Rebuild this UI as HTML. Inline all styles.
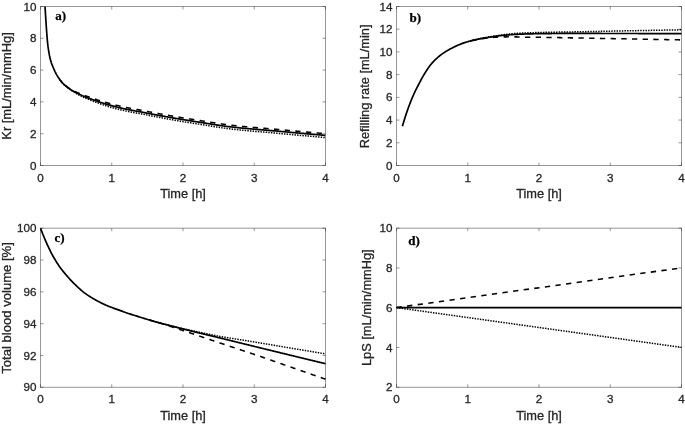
<!DOCTYPE html>
<html><head><meta charset="utf-8"><title>Figure</title>
<style>
html,body{margin:0;padding:0;background:#fff;}
svg{display:block;will-change:transform;font-family:"Liberation Sans",Arial,Helvetica,sans-serif;fill:#262626;font-variant-ligatures:none;}
text{stroke:#262626;stroke-width:0.3px;}
.s{fill:none;stroke:#000;stroke-width:1.7;}
.d{fill:none;stroke:#000;stroke-width:1.55;stroke-dasharray:5.3 5.4;}
.t{fill:none;stroke:#000;stroke-width:1.5;stroke-dasharray:1.45 1.18;}
.tag{font-family:"Liberation Serif","Times New Roman",serif;font-weight:bold;font-size:13px;fill:#000;stroke:#000;stroke-width:0.25px;}
</style></head><body>
<svg width="685" height="424" viewBox="0 0 685 424">
<defs><clipPath id="ca"><rect x="40.5" y="6.5" width="285" height="159"/></clipPath></defs>
<rect width="685" height="424" fill="#fff"/>
<rect x="40.5" y="6.5" width="285.0" height="159.0" fill="none" stroke="#262626" stroke-opacity="0.48" stroke-width="1"/>
<path d="M40.50,165.5 v-3 M40.50,6.5 v3 M111.75,165.5 v-3 M111.75,6.5 v3 M183.00,165.5 v-3 M183.00,6.5 v3 M254.25,165.5 v-3 M254.25,6.5 v3 M325.50,165.5 v-3 M325.50,6.5 v3 M40.5,165.50 h3 M325.5,165.50 h-3 M40.5,133.70 h3 M325.5,133.70 h-3 M40.5,101.90 h3 M325.5,101.90 h-3 M40.5,70.10 h3 M325.5,70.10 h-3 M40.5,38.30 h3 M325.5,38.30 h-3 M40.5,6.50 h3 M325.5,6.50 h-3" stroke="#262626" stroke-opacity="0.48" stroke-width="1" fill="none"/>
<text x="40.50" y="181.5" font-size="11.65" text-anchor="middle">0</text>
<text x="111.75" y="181.5" font-size="11.65" text-anchor="middle">1</text>
<text x="183.00" y="181.5" font-size="11.65" text-anchor="middle">2</text>
<text x="254.25" y="181.5" font-size="11.65" text-anchor="middle">3</text>
<text x="325.50" y="181.5" font-size="11.65" text-anchor="middle">4</text>
<text x="36.50" y="169.60" font-size="11.65" text-anchor="end">0</text>
<text x="36.50" y="137.80" font-size="11.65" text-anchor="end">2</text>
<text x="36.50" y="106.00" font-size="11.65" text-anchor="end">4</text>
<text x="36.50" y="74.20" font-size="11.65" text-anchor="end">6</text>
<text x="36.50" y="42.40" font-size="11.65" text-anchor="end">8</text>
<text x="36.50" y="10.60" font-size="11.65" text-anchor="end">10</text>
<text x="183.00" y="197.8" font-size="12.8" text-anchor="middle">Time [h]</text>
<g clip-path="url(#ca)">
<path d="M44.00,-10.00 L44.05,-9.08 L44.11,-8.16 L44.16,-7.24 L44.22,-6.32 L44.27,-5.41 L44.33,-4.49 L44.38,-3.57 L44.44,-2.65 L44.49,-1.73 L44.55,-0.81 L44.61,0.11 L44.66,1.03 L44.72,1.95 L44.78,2.86 L44.83,3.78 L44.89,4.70 L44.95,5.62 L45.01,6.54 L45.07,7.46 L45.13,8.38 L45.18,9.30 L45.24,10.22 L45.30,11.13 L45.36,12.05 L45.41,12.97 L45.47,13.89 L45.53,14.81 L45.58,15.73 L45.64,16.65 L45.70,17.57 L45.76,18.49 L45.82,19.40 L45.87,20.32 L45.93,21.24 L45.99,22.16 L46.05,23.08 L46.11,24.00 L46.17,24.92 L46.24,25.84 L46.30,26.75 L46.36,27.67 L46.42,28.59 L46.49,29.51 L46.56,30.43 L46.62,31.34 L46.69,32.26 L46.76,33.18 L46.83,34.10 L46.90,35.02 L46.97,35.93 L47.05,36.85 L47.12,37.77 L47.20,38.69 L47.28,39.60 L47.36,40.52 L47.45,41.44 L47.54,42.35 L47.63,43.27 L47.73,44.18 L47.83,45.10 L47.95,46.01 L48.06,46.93 L48.19,47.84 L48.32,48.75 L48.46,49.66 L48.60,50.57 L48.75,51.48 L48.90,52.39 L49.06,53.29 L49.23,54.20 L49.40,55.10 L49.58,56.01 L49.78,56.91 L49.98,57.81 L50.19,58.71 L50.41,59.60 L50.65,60.49 L50.89,61.37 L51.16,62.25 L51.46,63.12 L51.78,63.98 L52.12,64.84 L52.47,65.70 L52.82,66.55 L53.16,67.40 L53.52,68.25 L53.87,69.10 L54.24,69.95 L54.62,70.79 L55.01,71.62 L55.42,72.44 L55.85,73.26 L56.29,74.07 L56.75,74.87 L57.23,75.66 L57.71,76.44 L58.20,77.22 L58.71,77.99 L59.22,78.77 L59.74,79.53 L60.28,80.28 L60.84,81.01 L61.41,81.73 L62.00,82.42 L62.62,83.09 L63.27,83.74 L63.95,84.38 L64.64,85.00 L65.34,85.60 L66.05,86.19 L66.76,86.77 L67.49,87.33 L68.23,87.88 L68.98,88.41 L69.74,88.93 L70.51,89.44 L71.28,89.94 L72.07,90.42 L72.86,90.89 L73.66,91.35 L74.46,91.80 L75.27,92.24 L76.08,92.67 L76.90,93.09 L77.73,93.50 L78.56,93.90 L79.39,94.30 L80.22,94.69 L81.06,95.08 L81.89,95.47 L82.73,95.84 L83.58,96.21 L84.43,96.56 L85.28,96.90 L86.14,97.23 L87.01,97.55 L87.87,97.87 L88.73,98.20 L89.59,98.52 L90.45,98.85 L91.32,99.17 L92.18,99.48 L93.05,99.80 L93.91,100.11 L94.78,100.42 L95.65,100.72 L96.52,101.03 L97.39,101.33 L98.26,101.62 L99.13,101.91 L100.01,102.19 L100.88,102.48 L101.76,102.76 L102.64,103.03 L103.52,103.31 L104.40,103.58 L105.28,103.84 L106.16,104.11 L107.04,104.37 L107.93,104.64 L108.81,104.90 L109.69,105.15 L110.58,105.41 L111.47,105.66 L112.35,105.90 L113.24,106.14 L114.13,106.37 L115.02,106.60 L115.92,106.82 L116.81,107.05 L117.70,107.26 L118.60,107.48 L119.50,107.69 L120.39,107.90 L121.29,108.11 L122.19,108.31 L123.09,108.51 L123.98,108.71 L124.88,108.91 L125.78,109.10 L126.69,109.29 L127.59,109.48 L128.49,109.66 L129.39,109.84 L130.30,110.01 L131.20,110.18 L132.10,110.35 L133.01,110.52 L133.92,110.68 L134.82,110.85 L135.73,111.01 L136.63,111.18 L137.54,111.34 L138.44,111.51 L139.35,111.68 L140.25,111.85 L141.16,112.02 L142.06,112.19 L142.97,112.36 L143.87,112.54 L144.78,112.71 L145.68,112.88 L146.58,113.06 L147.49,113.23 L148.39,113.41 L149.30,113.58 L150.20,113.75 L151.10,113.93 L152.01,114.10 L152.91,114.27 L153.82,114.45 L154.72,114.62 L155.63,114.79 L156.53,114.96 L157.44,115.13 L158.34,115.30 L159.25,115.46 L160.15,115.63 L161.06,115.79 L161.96,115.96 L162.87,116.12 L163.78,116.28 L164.68,116.45 L165.59,116.61 L166.49,116.77 L167.40,116.93 L168.31,117.09 L169.21,117.25 L170.12,117.41 L171.03,117.57 L171.93,117.72 L172.84,117.88 L173.75,118.04 L174.66,118.19 L175.56,118.35 L176.47,118.50 L177.38,118.66 L178.29,118.81 L179.19,118.96 L180.10,119.12 L181.01,119.27 L181.92,119.42 L182.83,119.57 L183.73,119.72 L184.64,119.87 L185.55,120.02 L186.46,120.17 L187.37,120.32 L188.28,120.46 L189.19,120.61 L190.09,120.76 L191.00,120.90 L191.91,121.05 L192.82,121.19 L193.73,121.34 L194.64,121.48 L195.55,121.63 L196.46,121.77 L197.37,121.91 L198.28,122.06 L199.19,122.20 L200.10,122.34 L201.01,122.48 L201.92,122.62 L202.83,122.76 L203.74,122.91 L204.65,123.05 L205.56,123.19 L206.46,123.33 L207.37,123.47 L208.28,123.61 L209.19,123.76 L210.10,123.90 L211.01,124.05 L211.92,124.19 L212.83,124.33 L213.74,124.48 L214.65,124.62 L215.56,124.77 L216.47,124.91 L217.38,125.05 L218.29,125.19 L219.20,125.33 L220.11,125.47 L221.02,125.60 L221.94,125.73 L222.85,125.87 L223.76,126.00 L224.67,126.12 L225.58,126.25 L226.49,126.37 L227.41,126.48 L228.32,126.60 L229.23,126.71 L230.14,126.82 L231.06,126.92 L231.97,127.03 L232.89,127.13 L233.80,127.23 L234.71,127.33 L235.63,127.42 L236.54,127.52 L237.46,127.62 L238.37,127.71 L239.29,127.80 L240.21,127.89 L241.12,127.98 L242.04,128.07 L242.95,128.16 L243.87,128.25 L244.79,128.33 L245.70,128.42 L246.62,128.50 L247.54,128.59 L248.45,128.67 L249.37,128.75 L250.29,128.83 L251.20,128.91 L252.12,128.99 L253.04,129.07 L253.96,129.15 L254.87,129.23 L255.79,129.31 L256.71,129.39 L257.63,129.46 L258.55,129.54 L259.46,129.62 L260.38,129.70 L261.30,129.77 L262.22,129.85 L263.13,129.93 L264.05,130.00 L264.97,130.08 L265.89,130.16 L266.81,130.23 L267.72,130.31 L268.64,130.39 L269.56,130.47 L270.48,130.54 L271.39,130.62 L272.31,130.70 L273.23,130.78 L274.15,130.86 L275.06,130.94 L275.98,131.02 L276.90,131.10 L277.82,131.18 L278.73,131.27 L279.65,131.35 L280.57,131.43 L281.48,131.51 L282.40,131.60 L283.32,131.68 L284.23,131.76 L285.15,131.84 L286.07,131.92 L286.98,132.01 L287.90,132.09 L288.82,132.17 L289.74,132.25 L290.65,132.33 L291.57,132.42 L292.49,132.50 L293.40,132.58 L294.32,132.66 L295.24,132.74 L296.15,132.82 L297.07,132.90 L297.99,132.99 L298.90,133.07 L299.82,133.15 L300.74,133.23 L301.66,133.31 L302.57,133.39 L303.49,133.47 L304.41,133.55 L305.32,133.63 L306.24,133.72 L307.16,133.80 L308.08,133.88 L308.99,133.96 L309.91,134.04 L310.83,134.12 L311.74,134.20 L312.66,134.28 L313.58,134.36 L314.49,134.44 L315.41,134.52 L316.33,134.60 L317.25,134.68 L318.16,134.76 L319.08,134.84 L320.00,134.92 L320.91,135.00 L321.83,135.08 L322.75,135.16 L323.67,135.24 L324.58,135.32 L325.50,135.40" class="s"/>
<path d="M60.00,79.88 L60.89,81.11 L61.78,82.21 L62.66,83.20 L63.55,84.11 L64.44,84.96 L65.33,85.76 L66.22,86.52 L67.10,87.25 L67.99,87.95 L68.88,88.61 L69.77,89.24 L70.66,89.88 L71.54,90.49 L72.43,91.09 L73.32,91.66 L74.21,92.22 L75.10,92.76 L75.98,93.28 L76.87,93.78 L77.76,94.28 L78.65,94.76 L79.54,95.24 L80.42,95.71 L81.31,96.18 L82.20,96.64 L83.09,97.08 L83.97,97.51 L84.86,97.92 L85.75,98.29 L86.64,98.65 L87.53,99.01 L88.41,99.36 L89.30,99.72 L90.19,100.07 L91.08,100.43 L91.97,100.77 L92.85,101.12 L93.74,101.46 L94.63,101.80 L95.52,102.13 L96.41,102.46 L97.29,102.79 L98.18,103.11 L99.07,103.43 L99.96,103.74 L100.85,104.05 L101.73,104.35 L102.62,104.65 L103.51,104.95 L104.40,105.24 L105.29,105.53 L106.17,105.82 L107.06,106.11 L107.95,106.39 L108.84,106.68 L109.73,106.96 L110.61,107.22 L111.50,107.47 L112.39,107.72 L113.28,107.96 L114.17,108.19 L115.05,108.42 L115.94,108.65 L116.83,108.87 L117.72,109.09 L118.61,109.30 L119.49,109.52 L120.38,109.73 L121.27,109.93 L122.16,110.14 L123.05,110.34 L123.93,110.54 L124.82,110.74 L125.71,110.93 L126.60,111.12 L127.48,111.31 L128.37,111.49 L129.26,111.67 L130.15,111.84 L131.04,112.01 L131.92,112.18 L132.81,112.35 L133.70,112.51 L134.59,112.68 L135.48,112.84 L136.36,113.01 L137.25,113.17 L138.14,113.33 L139.03,113.50 L139.92,113.67 L140.80,113.84 L141.69,114.01 L142.58,114.18 L143.47,114.35 L144.36,114.53 L145.24,114.70 L146.13,114.87 L147.02,115.05 L147.91,115.22 L148.80,115.39 L149.68,115.57 L150.57,115.74 L151.46,115.91 L152.35,116.09 L153.24,116.26 L154.12,116.43 L155.01,116.60 L155.90,116.77 L156.79,116.94 L157.68,117.11 L158.56,117.28 L159.45,117.44 L160.34,117.61 L161.23,117.77 L162.12,117.93 L163.00,118.10 L163.89,118.26 L164.78,118.42 L165.67,118.58 L166.56,118.74 L167.44,118.90 L168.33,119.06 L169.22,119.22 L170.11,119.38 L170.99,119.53 L171.88,119.69 L172.77,119.85 L173.66,120.00 L174.55,120.16 L175.43,120.31 L176.32,120.47 L177.21,120.62 L178.10,120.77 L178.99,120.93 L179.87,121.08 L180.76,121.23 L181.65,121.38 L182.54,121.53 L183.43,121.67 L184.31,121.82 L185.20,121.97 L186.09,122.12 L186.98,122.26 L187.87,122.41 L188.75,122.55 L189.64,122.70 L190.53,122.84 L191.42,122.99 L192.31,123.13 L193.19,123.27 L194.08,123.41 L194.97,123.56 L195.86,123.70 L196.75,123.84 L197.63,123.98 L198.52,124.12 L199.41,124.26 L200.30,124.40 L201.19,124.54 L202.07,124.68 L202.96,124.82 L203.85,124.96 L204.74,125.09 L205.63,125.23 L206.51,125.37 L207.40,125.51 L208.29,125.65 L209.18,125.79 L210.07,125.94 L210.95,126.08 L211.84,126.22 L212.73,126.36 L213.62,126.51 L214.51,126.65 L215.39,126.79 L216.28,126.93 L217.17,127.07 L218.06,127.21 L218.94,127.34 L219.83,127.48 L220.72,127.61 L221.61,127.74 L222.50,127.87 L223.38,128.00 L224.27,128.13 L225.16,128.25 L226.05,128.37 L226.94,128.49 L227.82,128.60 L228.71,128.71 L229.60,128.82 L230.49,128.93 L231.38,129.03 L232.26,129.13 L233.15,129.23 L234.04,129.33 L234.93,129.42 L235.82,129.52 L236.70,129.61 L237.59,129.71 L238.48,129.80 L239.37,129.89 L240.26,129.98 L241.14,130.07 L242.03,130.16 L242.92,130.24 L243.81,130.33 L244.70,130.41 L245.58,130.50 L246.47,130.58 L247.36,130.66 L248.25,130.74 L249.14,130.83 L250.02,130.91 L250.91,130.99 L251.80,131.06 L252.69,131.14 L253.58,131.22 L254.46,131.30 L255.35,131.38 L256.24,131.45 L257.13,131.53 L258.02,131.61 L258.90,131.68 L259.79,131.76 L260.68,131.83 L261.57,131.91 L262.45,131.98 L263.34,132.06 L264.23,132.13 L265.12,132.21 L266.01,132.28 L266.89,132.36 L267.78,132.44 L268.67,132.51 L269.56,132.59 L270.45,132.67 L271.33,132.74 L272.22,132.82 L273.11,132.90 L274.00,132.98 L274.89,133.05 L275.77,133.13 L276.66,133.21 L277.55,133.29 L278.44,133.37 L279.33,133.46 L280.21,133.54 L281.10,133.62 L281.99,133.70 L282.88,133.78 L283.77,133.86 L284.65,133.94 L285.54,134.02 L286.43,134.10 L287.32,134.18 L288.21,134.26 L289.09,134.34 L289.98,134.42 L290.87,134.51 L291.76,134.59 L292.65,134.67 L293.53,134.75 L294.42,134.83 L295.31,134.91 L296.20,134.99 L297.09,135.07 L297.97,135.15 L298.86,135.23 L299.75,135.31 L300.64,135.39 L301.53,135.47 L302.41,135.55 L303.30,135.63 L304.19,135.71 L305.08,135.78 L305.96,135.86 L306.85,135.94 L307.74,136.02 L308.63,136.10 L309.52,136.18 L310.40,136.26 L311.29,136.34 L312.18,136.42 L313.07,136.50 L313.96,136.58 L314.84,136.66 L315.73,136.74 L316.62,136.81 L317.51,136.89 L318.40,136.97 L319.28,137.05 L320.17,137.13 L321.06,137.21 L321.95,137.29 L322.84,137.36 L323.72,137.44 L324.61,137.52 L325.50,137.60" class="t"/>
<path d="M60.00,79.88 L60.89,81.05 L61.78,82.11 L62.66,83.04 L63.55,83.90 L64.44,84.69 L65.33,85.44 L66.22,86.14 L67.10,86.82 L67.99,87.47 L68.88,88.08 L69.77,88.66 L70.66,89.20 L71.54,89.71 L72.43,90.19 L73.32,90.66 L74.21,91.11 L75.10,91.55 L75.98,91.96 L76.87,92.36 L77.76,92.75 L78.65,93.12 L79.54,93.49 L80.42,93.86 L81.31,94.22 L82.20,94.57 L83.09,94.91 L83.97,95.23 L84.86,95.54 L85.75,95.86 L86.64,96.18 L87.53,96.50 L88.41,96.82 L89.30,97.14 L90.19,97.46 L91.08,97.77 L91.97,98.08 L92.85,98.39 L93.74,98.69 L94.63,98.99 L95.52,99.29 L96.41,99.58 L97.29,99.87 L98.18,100.16 L99.07,100.44 L99.96,100.71 L100.85,100.98 L101.73,101.25 L102.62,101.51 L103.51,101.77 L104.40,102.03 L105.29,102.28 L106.17,102.53 L107.06,102.78 L107.95,103.03 L108.84,103.27 L109.73,103.52 L110.61,103.76 L111.50,104.01 L112.39,104.25 L113.28,104.49 L114.17,104.72 L115.05,104.94 L115.94,105.16 L116.83,105.38 L117.72,105.59 L118.61,105.80 L119.49,106.01 L120.38,106.21 L121.27,106.41 L122.16,106.61 L123.05,106.81 L123.93,107.00 L124.82,107.20 L125.71,107.38 L126.60,107.57 L127.48,107.75 L128.37,107.92 L129.26,108.10 L130.15,108.27 L131.04,108.43 L131.92,108.60 L132.81,108.76 L133.70,108.92 L134.59,109.08 L135.48,109.23 L136.36,109.39 L137.25,109.55 L138.14,109.71 L139.03,109.87 L139.92,110.03 L140.80,110.20 L141.69,110.37 L142.58,110.54 L143.47,110.71 L144.36,110.88 L145.24,111.05 L146.13,111.22 L147.02,111.39 L147.91,111.56 L148.80,111.74 L149.68,111.91 L150.57,112.08 L151.46,112.25 L152.35,112.42 L153.24,112.59 L154.12,112.76 L155.01,112.93 L155.90,113.09 L156.79,113.26 L157.68,113.43 L158.56,113.59 L159.45,113.76 L160.34,113.92 L161.23,114.08 L162.12,114.24 L163.00,114.40 L163.89,114.56 L164.78,114.72 L165.67,114.88 L166.56,115.04 L167.44,115.19 L168.33,115.35 L169.22,115.51 L170.11,115.66 L170.99,115.82 L171.88,115.97 L172.77,116.13 L173.66,116.28 L174.55,116.43 L175.43,116.59 L176.32,116.74 L177.21,116.89 L178.10,117.04 L178.99,117.19 L179.87,117.34 L180.76,117.49 L181.65,117.64 L182.54,117.78 L183.43,117.93 L184.31,118.08 L185.20,118.22 L186.09,118.37 L186.98,118.51 L187.87,118.66 L188.75,118.80 L189.64,118.95 L190.53,119.09 L191.42,119.23 L192.31,119.38 L193.19,119.52 L194.08,119.66 L194.97,119.80 L195.86,119.94 L196.75,120.08 L197.63,120.22 L198.52,120.36 L199.41,120.50 L200.30,120.64 L201.19,120.78 L202.07,120.91 L202.96,121.05 L203.85,121.19 L204.74,121.33 L205.63,121.46 L206.51,121.60 L207.40,121.74 L208.29,121.88 L209.18,122.02 L210.07,122.16 L210.95,122.30 L211.84,122.45 L212.73,122.59 L213.62,122.73 L214.51,122.87 L215.39,123.01 L216.28,123.15 L217.17,123.29 L218.06,123.42 L218.94,123.56 L219.83,123.70 L220.72,123.83 L221.61,123.96 L222.50,124.09 L223.38,124.22 L224.27,124.34 L225.16,124.46 L226.05,124.58 L226.94,124.70 L227.82,124.81 L228.71,124.92 L229.60,125.03 L230.49,125.13 L231.38,125.23 L232.26,125.33 L233.15,125.43 L234.04,125.53 L234.93,125.62 L235.82,125.72 L236.70,125.81 L237.59,125.91 L238.48,126.00 L239.37,126.09 L240.26,126.17 L241.14,126.26 L242.03,126.35 L242.92,126.43 L243.81,126.52 L244.70,126.60 L245.58,126.69 L246.47,126.77 L247.36,126.85 L248.25,126.93 L249.14,127.01 L250.02,127.09 L250.91,127.17 L251.80,127.25 L252.69,127.32 L253.58,127.40 L254.46,127.48 L255.35,127.55 L256.24,127.63 L257.13,127.70 L258.02,127.78 L258.90,127.85 L259.79,127.93 L260.68,128.00 L261.57,128.08 L262.45,128.15 L263.34,128.23 L264.23,128.30 L265.12,128.38 L266.01,128.45 L266.89,128.53 L267.78,128.60 L268.67,128.68 L269.56,128.75 L270.45,128.83 L271.33,128.90 L272.22,128.98 L273.11,129.06 L274.00,129.13 L274.89,129.21 L275.77,129.29 L276.66,129.37 L277.55,129.45 L278.44,129.53 L279.33,129.61 L280.21,129.69 L281.10,129.77 L281.99,129.85 L282.88,129.93 L283.77,130.01 L284.65,130.09 L285.54,130.17 L286.43,130.25 L287.32,130.33 L288.21,130.41 L289.09,130.48 L289.98,130.56 L290.87,130.64 L291.76,130.72 L292.65,130.80 L293.53,130.88 L294.42,130.96 L295.31,131.04 L296.20,131.12 L297.09,131.20 L297.97,131.28 L298.86,131.36 L299.75,131.44 L300.64,131.51 L301.53,131.59 L302.41,131.67 L303.30,131.75 L304.19,131.83 L305.08,131.91 L305.96,131.99 L306.85,132.06 L307.74,132.14 L308.63,132.22 L309.52,132.30 L310.40,132.38 L311.29,132.46 L312.18,132.53 L313.07,132.61 L313.96,132.69 L314.84,132.77 L315.73,132.85 L316.62,132.92 L317.51,133.00 L318.40,133.08 L319.28,133.16 L320.17,133.24 L321.06,133.31 L321.95,133.39 L322.84,133.47 L323.72,133.55 L324.61,133.62 L325.50,133.70" class="d" stroke-dashoffset="-8.38"/>
</g>
<text transform="translate(11.4,86) rotate(-90)" font-size="12.90" text-anchor="middle">Kr [mL/min/mmHg]</text>
<text x="55.3" y="19.8" class="tag">a)</text>
<rect x="396.5" y="6.5" width="285.0" height="159.0" fill="none" stroke="#262626" stroke-opacity="0.48" stroke-width="1"/>
<path d="M396.50,165.5 v-3 M396.50,6.5 v3 M467.75,165.5 v-3 M467.75,6.5 v3 M539.00,165.5 v-3 M539.00,6.5 v3 M610.25,165.5 v-3 M610.25,6.5 v3 M681.50,165.5 v-3 M681.50,6.5 v3 M396.5,165.50 h3 M681.5,165.50 h-3 M396.5,142.79 h3 M681.5,142.79 h-3 M396.5,120.07 h3 M681.5,120.07 h-3 M396.5,97.36 h3 M681.5,97.36 h-3 M396.5,74.64 h3 M681.5,74.64 h-3 M396.5,51.93 h3 M681.5,51.93 h-3 M396.5,29.21 h3 M681.5,29.21 h-3 M396.5,6.50 h3 M681.5,6.50 h-3" stroke="#262626" stroke-opacity="0.48" stroke-width="1" fill="none"/>
<text x="396.50" y="181.5" font-size="11.65" text-anchor="middle">0</text>
<text x="467.75" y="181.5" font-size="11.65" text-anchor="middle">1</text>
<text x="539.00" y="181.5" font-size="11.65" text-anchor="middle">2</text>
<text x="610.25" y="181.5" font-size="11.65" text-anchor="middle">3</text>
<text x="681.50" y="181.5" font-size="11.65" text-anchor="middle">4</text>
<text x="392.50" y="169.60" font-size="11.65" text-anchor="end">0</text>
<text x="392.50" y="146.89" font-size="11.65" text-anchor="end">2</text>
<text x="392.50" y="124.17" font-size="11.65" text-anchor="end">4</text>
<text x="392.50" y="101.46" font-size="11.65" text-anchor="end">6</text>
<text x="392.50" y="78.74" font-size="11.65" text-anchor="end">8</text>
<text x="392.50" y="56.03" font-size="11.65" text-anchor="end">10</text>
<text x="392.50" y="33.31" font-size="11.65" text-anchor="end">12</text>
<text x="392.50" y="10.60" font-size="11.65" text-anchor="end">14</text>
<text x="539.00" y="197.8" font-size="12.8" text-anchor="middle">Time [h]</text>
<path d="M402.40,126.20 L403.10,123.81 L403.80,121.48 L404.50,119.22 L405.20,117.03 L405.90,114.88 L406.60,112.78 L407.30,110.73 L408.00,108.74 L408.70,106.82 L409.39,104.94 L410.09,103.12 L410.79,101.34 L411.49,99.62 L412.19,97.94 L412.89,96.31 L413.59,94.73 L414.29,93.18 L414.99,91.68 L415.69,90.21 L416.39,88.79 L417.09,87.41 L417.79,86.06 L418.49,84.73 L419.19,83.40 L419.89,82.07 L420.59,80.74 L421.29,79.43 L421.99,78.13 L422.69,76.88 L423.38,75.69 L424.08,74.52 L424.78,73.35 L425.48,72.21 L426.18,71.08 L426.88,69.98 L427.58,68.91 L428.28,67.88 L428.98,66.89 L429.68,65.94 L430.38,65.05 L431.08,64.20 L431.78,63.38 L432.48,62.59 L433.18,61.83 L433.88,61.09 L434.58,60.38 L435.28,59.69 L435.98,59.03 L436.68,58.38 L437.37,57.76 L438.07,57.15 L438.77,56.56 L439.47,55.99 L440.17,55.44 L440.87,54.90 L441.57,54.38 L442.27,53.88 L442.97,53.38 L443.67,52.90 L444.37,52.44 L445.07,51.98 L445.77,51.54 L446.47,51.11 L447.17,50.69 L447.87,50.29 L448.57,49.89 L449.27,49.50 L449.97,49.12 L450.67,48.75 L451.36,48.38 L452.06,48.02 L452.76,47.67 L453.46,47.31 L454.16,46.96 L454.86,46.62 L455.56,46.28 L456.26,45.94 L456.96,45.62 L457.66,45.30 L458.36,44.99 L459.06,44.70 L459.76,44.42 L460.46,44.14 L461.16,43.88 L461.86,43.62 L462.56,43.37 L463.26,43.13 L463.96,42.89 L464.66,42.66 L465.35,42.43 L466.05,42.22 L466.75,42.00 L467.45,41.80 L468.15,41.59 L468.85,41.40 L469.55,41.21 L470.25,41.02 L470.95,40.84 L471.65,40.66 L472.35,40.49 L473.05,40.32 L473.75,40.15 L474.45,39.99 L475.15,39.83 L475.85,39.67 L476.55,39.52 L477.25,39.37 L477.95,39.23 L478.65,39.09 L479.34,38.95 L480.04,38.81 L480.74,38.68 L481.44,38.55 L482.14,38.42 L482.84,38.30 L483.54,38.18 L484.24,38.06 L484.94,37.94 L485.64,37.83 L486.34,37.72 L487.04,37.61 L487.74,37.50 L488.44,37.39 L489.14,37.28 L489.84,37.17 L490.54,37.06 L491.24,36.95 L491.94,36.83 L492.64,36.72 L493.33,36.61 L494.03,36.50 L494.73,36.40 L495.43,36.29 L496.13,36.19 L496.83,36.10 L497.53,36.00 L498.23,35.91 L498.93,35.83 L499.63,35.75 L500.33,35.67 L501.03,35.60 L501.73,35.52 L502.43,35.45 L503.13,35.38 L503.83,35.31 L504.53,35.24 L505.23,35.17 L505.93,35.10 L506.63,35.04 L507.32,34.98 L508.02,34.92 L508.72,34.86 L509.42,34.80 L510.12,34.75 L510.82,34.70 L511.52,34.65 L512.22,34.60 L512.92,34.56 L513.62,34.52 L514.32,34.48 L515.02,34.44 L515.72,34.40 L516.42,34.37 L517.12,34.33 L517.82,34.30 L518.52,34.26 L519.22,34.23 L519.92,34.20 L520.62,34.17 L521.31,34.14 L522.01,34.12 L522.71,34.09 L523.41,34.06 L524.11,34.04 L524.81,34.01 L525.51,33.99 L526.21,33.97 L526.91,33.95 L527.61,33.93 L528.31,33.91 L529.01,33.89 L529.71,33.87 L530.41,33.85 L531.11,33.83 L531.81,33.81 L532.51,33.79 L533.21,33.78 L533.91,33.76 L534.61,33.74 L535.30,33.73 L536.00,33.71 L536.70,33.70 L537.40,33.68 L538.10,33.67 L538.80,33.66 L539.50,33.65 L540.20,33.64 L540.90,33.63 L541.60,33.62 L542.30,33.61 L543.00,33.60 L543.70,33.59 L544.40,33.59 L545.10,33.58 L545.80,33.58 L546.50,33.57 L547.20,33.56 L547.90,33.56 L548.60,33.55 L549.29,33.55 L549.99,33.54 L550.69,33.53 L551.39,33.53 L552.09,33.52 L552.79,33.52 L553.49,33.51 L554.19,33.51 L554.89,33.50 L555.59,33.50 L556.29,33.50 L556.99,33.49 L557.69,33.49 L558.39,33.48 L559.09,33.48 L559.79,33.48 L560.49,33.47 L561.19,33.47 L561.89,33.47 L562.59,33.46 L563.28,33.46 L563.98,33.46 L564.68,33.46 L565.38,33.46 L566.08,33.45 L566.78,33.45 L567.48,33.45 L568.18,33.45 L568.88,33.45 L569.58,33.45 L570.28,33.45 L570.98,33.45 L571.68,33.45 L572.38,33.45 L573.08,33.45 L573.78,33.45 L574.48,33.45 L575.18,33.45 L575.88,33.45 L576.58,33.45 L577.27,33.45 L577.97,33.45 L578.67,33.45 L579.37,33.45 L580.07,33.45 L580.77,33.45 L581.47,33.45 L582.17,33.45 L582.87,33.46 L583.57,33.46 L584.27,33.46 L584.97,33.46 L585.67,33.46 L586.37,33.46 L587.07,33.46 L587.77,33.46 L588.47,33.46 L589.17,33.46 L589.87,33.46 L590.57,33.46 L591.26,33.46 L591.96,33.46 L592.66,33.46 L593.36,33.47 L594.06,33.47 L594.76,33.47 L595.46,33.47 L596.16,33.47 L596.86,33.47 L597.56,33.47 L598.26,33.47 L598.96,33.47 L599.66,33.47 L600.36,33.47 L601.06,33.47 L601.76,33.48 L602.46,33.48 L603.16,33.48 L603.86,33.48 L604.56,33.48 L605.25,33.48 L605.95,33.48 L606.65,33.48 L607.35,33.48 L608.05,33.48 L608.75,33.49 L609.45,33.49 L610.15,33.49 L610.85,33.49 L611.55,33.49 L612.25,33.49 L612.95,33.49 L613.65,33.49 L614.35,33.49 L615.05,33.49 L615.75,33.49 L616.45,33.50 L617.15,33.50 L617.85,33.50 L618.55,33.50 L619.24,33.50 L619.94,33.50 L620.64,33.50 L621.34,33.50 L622.04,33.50 L622.74,33.50 L623.44,33.50 L624.14,33.51 L624.84,33.51 L625.54,33.51 L626.24,33.51 L626.94,33.51 L627.64,33.51 L628.34,33.51 L629.04,33.51 L629.74,33.51 L630.44,33.51 L631.14,33.51 L631.84,33.52 L632.54,33.52 L633.23,33.52 L633.93,33.52 L634.63,33.52 L635.33,33.52 L636.03,33.52 L636.73,33.52 L637.43,33.52 L638.13,33.52 L638.83,33.53 L639.53,33.53 L640.23,33.53 L640.93,33.53 L641.63,33.53 L642.33,33.53 L643.03,33.53 L643.73,33.53 L644.43,33.53 L645.13,33.54 L645.83,33.54 L646.53,33.54 L647.22,33.54 L647.92,33.54 L648.62,33.54 L649.32,33.54 L650.02,33.54 L650.72,33.54 L651.42,33.55 L652.12,33.55 L652.82,33.55 L653.52,33.55 L654.22,33.55 L654.92,33.55 L655.62,33.55 L656.32,33.55 L657.02,33.55 L657.72,33.56 L658.42,33.56 L659.12,33.56 L659.82,33.56 L660.52,33.56 L661.21,33.56 L661.91,33.56 L662.61,33.56 L663.31,33.57 L664.01,33.57 L664.71,33.57 L665.41,33.57 L666.11,33.57 L666.81,33.57 L667.51,33.57 L668.21,33.57 L668.91,33.58 L669.61,33.58 L670.31,33.58 L671.01,33.58 L671.71,33.58 L672.41,33.58 L673.11,33.58 L673.81,33.59 L674.51,33.59 L675.20,33.59 L675.90,33.59 L676.60,33.59 L677.30,33.59 L678.00,33.59 L678.70,33.59 L679.40,33.60 L680.10,33.60 L680.80,33.60 L681.50,33.60" class="s"/>
<path d="M470.00,41.09 L470.71,40.89 L471.41,40.70 L472.12,40.51 L472.83,40.32 L473.54,40.14 L474.24,39.97 L474.95,39.79 L475.66,39.62 L476.37,39.46 L477.07,39.29 L477.78,39.13 L478.49,38.98 L479.20,38.82 L479.90,38.67 L480.61,38.53 L481.32,38.38 L482.03,38.24 L482.73,38.10 L483.44,37.97 L484.15,37.84 L484.85,37.71 L485.56,37.58 L486.27,37.46 L486.98,37.33 L487.68,37.21 L488.39,37.09 L489.10,36.97 L489.81,36.84 L490.51,36.72 L491.22,36.59 L491.93,36.47 L492.64,36.35 L493.34,36.22 L494.05,36.10 L494.76,35.98 L495.46,35.86 L496.17,35.75 L496.88,35.64 L497.59,35.54 L498.29,35.43 L499.00,35.34 L499.71,35.25 L500.42,35.15 L501.12,35.05 L501.83,34.95 L502.54,34.86 L503.25,34.76 L503.95,34.67 L504.66,34.57 L505.37,34.48 L506.08,34.40 L506.78,34.31 L507.49,34.22 L508.20,34.14 L508.90,34.06 L509.61,33.98 L510.32,33.90 L511.03,33.83 L511.73,33.76 L512.44,33.69 L513.15,33.62 L513.86,33.56 L514.56,33.51 L515.27,33.47 L515.98,33.42 L516.69,33.38 L517.39,33.34 L518.10,33.31 L518.81,33.27 L519.52,33.23 L520.22,33.20 L520.93,33.16 L521.64,33.13 L522.34,33.09 L523.05,33.06 L523.76,33.03 L524.47,33.00 L525.17,32.97 L525.88,32.95 L526.59,32.92 L527.30,32.89 L528.00,32.87 L528.71,32.84 L529.42,32.82 L530.13,32.79 L530.83,32.76 L531.54,32.74 L532.25,32.71 L532.95,32.68 L533.66,32.66 L534.37,32.64 L535.08,32.61 L535.78,32.59 L536.49,32.57 L537.20,32.54 L537.91,32.52 L538.61,32.50 L539.32,32.48 L540.03,32.46 L540.74,32.45 L541.44,32.43 L542.15,32.41 L542.86,32.40 L543.57,32.38 L544.27,32.37 L544.98,32.35 L545.69,32.34 L546.39,32.33 L547.10,32.31 L547.81,32.30 L548.52,32.29 L549.22,32.27 L549.93,32.26 L550.64,32.24 L551.35,32.23 L552.05,32.22 L552.76,32.21 L553.47,32.19 L554.18,32.18 L554.88,32.17 L555.59,32.16 L556.30,32.14 L557.01,32.13 L557.71,32.12 L558.42,32.11 L559.13,32.10 L559.83,32.09 L560.54,32.08 L561.25,32.06 L561.96,32.05 L562.66,32.04 L563.37,32.03 L564.08,32.02 L564.79,32.01 L565.49,32.00 L566.20,32.00 L566.91,31.99 L567.62,31.98 L568.32,31.97 L569.03,31.96 L569.74,31.95 L570.44,31.94 L571.15,31.93 L571.86,31.91 L572.57,31.90 L573.27,31.88 L573.98,31.87 L574.69,31.85 L575.40,31.84 L576.10,31.83 L576.81,31.81 L577.52,31.80 L578.23,31.78 L578.93,31.77 L579.64,31.75 L580.35,31.74 L581.06,31.73 L581.76,31.71 L582.47,31.70 L583.18,31.68 L583.88,31.67 L584.59,31.66 L585.30,31.64 L586.01,31.63 L586.71,31.61 L587.42,31.60 L588.13,31.59 L588.84,31.57 L589.54,31.56 L590.25,31.54 L590.96,31.53 L591.67,31.52 L592.37,31.50 L593.08,31.49 L593.79,31.48 L594.49,31.46 L595.20,31.45 L595.91,31.43 L596.62,31.42 L597.32,31.41 L598.03,31.39 L598.74,31.38 L599.45,31.37 L600.15,31.35 L600.86,31.34 L601.57,31.32 L602.28,31.31 L602.98,31.30 L603.69,31.28 L604.40,31.27 L605.11,31.26 L605.81,31.24 L606.52,31.23 L607.23,31.22 L607.93,31.20 L608.64,31.19 L609.35,31.17 L610.06,31.16 L610.76,31.15 L611.47,31.13 L612.18,31.12 L612.89,31.11 L613.59,31.09 L614.30,31.08 L615.01,31.07 L615.72,31.05 L616.42,31.04 L617.13,31.02 L617.84,31.01 L618.55,31.00 L619.25,30.98 L619.96,30.97 L620.67,30.96 L621.37,30.94 L622.08,30.93 L622.79,30.91 L623.50,30.90 L624.20,30.89 L624.91,30.87 L625.62,30.86 L626.33,30.85 L627.03,30.83 L627.74,30.82 L628.45,30.81 L629.16,30.79 L629.86,30.78 L630.57,30.76 L631.28,30.75 L631.98,30.74 L632.69,30.72 L633.40,30.71 L634.11,30.70 L634.81,30.68 L635.52,30.67 L636.23,30.66 L636.94,30.64 L637.64,30.63 L638.35,30.61 L639.06,30.60 L639.77,30.59 L640.47,30.57 L641.18,30.56 L641.89,30.55 L642.60,30.53 L643.30,30.52 L644.01,30.51 L644.72,30.49 L645.42,30.48 L646.13,30.47 L646.84,30.45 L647.55,30.44 L648.25,30.43 L648.96,30.41 L649.67,30.40 L650.38,30.39 L651.08,30.37 L651.79,30.36 L652.50,30.35 L653.21,30.33 L653.91,30.32 L654.62,30.31 L655.33,30.29 L656.04,30.28 L656.74,30.27 L657.45,30.25 L658.16,30.24 L658.86,30.22 L659.57,30.21 L660.28,30.20 L660.99,30.18 L661.69,30.17 L662.40,30.16 L663.11,30.14 L663.82,30.13 L664.52,30.12 L665.23,30.10 L665.94,30.09 L666.65,30.08 L667.35,30.06 L668.06,30.05 L668.77,30.04 L669.47,30.03 L670.18,30.01 L670.89,30.00 L671.60,29.99 L672.30,29.97 L673.01,29.96 L673.72,29.95 L674.43,29.93 L675.13,29.92 L675.84,29.91 L676.55,29.89 L677.26,29.88 L677.96,29.87 L678.67,29.85 L679.38,29.84 L680.09,29.83 L680.79,29.81 L681.50,29.80" class="t"/>
<path d="M470.00,41.09 L470.71,40.92 L471.41,40.75 L472.12,40.60 L472.83,40.44 L473.54,40.29 L474.24,40.14 L474.95,40.00 L475.66,39.86 L476.37,39.72 L477.07,39.59 L477.78,39.46 L478.49,39.33 L479.20,39.21 L479.90,39.09 L480.61,38.97 L481.32,38.85 L482.03,38.74 L482.73,38.63 L483.44,38.53 L484.15,38.43 L484.85,38.33 L485.56,38.23 L486.27,38.13 L486.98,38.04 L487.68,37.95 L488.39,37.85 L489.10,37.76 L489.81,37.67 L490.51,37.60 L491.22,37.54 L491.93,37.49 L492.64,37.43 L493.34,37.38 L494.05,37.32 L494.76,37.27 L495.46,37.22 L496.17,37.17 L496.88,37.13 L497.59,37.09 L498.29,37.06 L499.00,37.03 L499.71,37.01 L500.42,36.99 L501.12,36.96 L501.83,36.94 L502.54,36.93 L503.25,36.91 L503.95,36.89 L504.66,36.88 L505.37,36.87 L506.08,36.86 L506.78,36.85 L507.49,36.84 L508.20,36.83 L508.90,36.82 L509.61,36.81 L510.32,36.81 L511.03,36.81 L511.73,36.81 L512.44,36.82 L513.15,36.83 L513.86,36.84 L514.56,36.85 L515.27,36.86 L515.98,36.88 L516.69,36.89 L517.39,36.91 L518.10,36.93 L518.81,36.95 L519.52,36.97 L520.22,36.99 L520.93,37.01 L521.64,37.03 L522.34,37.05 L523.05,37.08 L523.76,37.10 L524.47,37.13 L525.17,37.16 L525.88,37.19 L526.59,37.22 L527.30,37.25 L528.00,37.28 L528.71,37.30 L529.42,37.30 L530.13,37.30 L530.83,37.29 L531.54,37.29 L532.25,37.29 L532.95,37.29 L533.66,37.29 L534.37,37.29 L535.08,37.29 L535.78,37.29 L536.49,37.29 L537.20,37.30 L537.91,37.30 L538.61,37.31 L539.32,37.31 L540.03,37.32 L540.74,37.32 L541.44,37.33 L542.15,37.34 L542.86,37.35 L543.57,37.36 L544.27,37.37 L544.98,37.38 L545.69,37.39 L546.39,37.40 L547.10,37.41 L547.81,37.42 L548.52,37.43 L549.22,37.45 L549.93,37.46 L550.64,37.47 L551.35,37.48 L552.05,37.49 L552.76,37.50 L553.47,37.52 L554.18,37.53 L554.88,37.54 L555.59,37.55 L556.30,37.57 L557.01,37.58 L557.71,37.59 L558.42,37.60 L559.13,37.62 L559.83,37.63 L560.54,37.64 L561.25,37.66 L561.96,37.67 L562.66,37.69 L563.37,37.70 L564.08,37.72 L564.79,37.73 L565.49,37.75 L566.20,37.76 L566.91,37.78 L567.62,37.79 L568.32,37.81 L569.03,37.83 L569.74,37.84 L570.44,37.86 L571.15,37.87 L571.86,37.88 L572.57,37.89 L573.27,37.91 L573.98,37.92 L574.69,37.93 L575.40,37.94 L576.10,37.96 L576.81,37.97 L577.52,37.98 L578.23,37.99 L578.93,38.00 L579.64,38.02 L580.35,38.03 L581.06,38.04 L581.76,38.05 L582.47,38.07 L583.18,38.08 L583.88,38.09 L584.59,38.11 L585.30,38.12 L586.01,38.13 L586.71,38.14 L587.42,38.16 L588.13,38.17 L588.84,38.18 L589.54,38.19 L590.25,38.21 L590.96,38.22 L591.67,38.23 L592.37,38.25 L593.08,38.26 L593.79,38.27 L594.49,38.28 L595.20,38.30 L595.91,38.31 L596.62,38.32 L597.32,38.34 L598.03,38.35 L598.74,38.36 L599.45,38.37 L600.15,38.39 L600.86,38.40 L601.57,38.41 L602.28,38.43 L602.98,38.44 L603.69,38.45 L604.40,38.47 L605.11,38.48 L605.81,38.49 L606.52,38.50 L607.23,38.52 L607.93,38.53 L608.64,38.54 L609.35,38.56 L610.06,38.57 L610.76,38.58 L611.47,38.60 L612.18,38.61 L612.89,38.62 L613.59,38.63 L614.30,38.65 L615.01,38.66 L615.72,38.67 L616.42,38.69 L617.13,38.70 L617.84,38.71 L618.55,38.73 L619.25,38.74 L619.96,38.75 L620.67,38.76 L621.37,38.78 L622.08,38.79 L622.79,38.80 L623.50,38.82 L624.20,38.83 L624.91,38.84 L625.62,38.85 L626.33,38.87 L627.03,38.88 L627.74,38.89 L628.45,38.91 L629.16,38.92 L629.86,38.93 L630.57,38.95 L631.28,38.96 L631.98,38.97 L632.69,38.99 L633.40,39.00 L634.11,39.01 L634.81,39.02 L635.52,39.04 L636.23,39.05 L636.94,39.06 L637.64,39.08 L638.35,39.09 L639.06,39.10 L639.77,39.12 L640.47,39.13 L641.18,39.14 L641.89,39.16 L642.60,39.17 L643.30,39.18 L644.01,39.19 L644.72,39.21 L645.42,39.22 L646.13,39.23 L646.84,39.25 L647.55,39.26 L648.25,39.27 L648.96,39.29 L649.67,39.30 L650.38,39.31 L651.08,39.33 L651.79,39.34 L652.50,39.35 L653.21,39.37 L653.91,39.38 L654.62,39.39 L655.33,39.41 L656.04,39.42 L656.74,39.43 L657.45,39.45 L658.16,39.46 L658.86,39.47 L659.57,39.49 L660.28,39.50 L660.99,39.51 L661.69,39.53 L662.40,39.54 L663.11,39.55 L663.82,39.57 L664.52,39.58 L665.23,39.59 L665.94,39.61 L666.65,39.62 L667.35,39.63 L668.06,39.65 L668.77,39.66 L669.47,39.67 L670.18,39.69 L670.89,39.70 L671.60,39.71 L672.30,39.73 L673.01,39.74 L673.72,39.75 L674.43,39.77 L675.13,39.78 L675.84,39.79 L676.55,39.81 L677.26,39.82 L677.96,39.83 L678.67,39.85 L679.38,39.86 L680.09,39.87 L680.79,39.89 L681.50,39.90" class="d" stroke-dashoffset="-1.83"/>
<text transform="translate(368.7,86.4) rotate(-90)" font-size="12.8" text-anchor="middle">Refilling rate [mL/min]</text>
<text x="409.5" y="21.7" class="tag">b)</text>
<rect x="40.5" y="228.2" width="285.0" height="159.10000000000002" fill="none" stroke="#262626" stroke-opacity="0.48" stroke-width="1"/>
<path d="M40.50,387.3 v-3 M40.50,228.2 v3 M111.75,387.3 v-3 M111.75,228.2 v3 M183.00,387.3 v-3 M183.00,228.2 v3 M254.25,387.3 v-3 M254.25,228.2 v3 M325.50,387.3 v-3 M325.50,228.2 v3 M40.5,387.30 h3 M325.5,387.30 h-3 M40.5,355.48 h3 M325.5,355.48 h-3 M40.5,323.66 h3 M325.5,323.66 h-3 M40.5,291.84 h3 M325.5,291.84 h-3 M40.5,260.02 h3 M325.5,260.02 h-3 M40.5,228.20 h3 M325.5,228.20 h-3" stroke="#262626" stroke-opacity="0.48" stroke-width="1" fill="none"/>
<text x="40.50" y="403.3" font-size="11.65" text-anchor="middle">0</text>
<text x="111.75" y="403.3" font-size="11.65" text-anchor="middle">1</text>
<text x="183.00" y="403.3" font-size="11.65" text-anchor="middle">2</text>
<text x="254.25" y="403.3" font-size="11.65" text-anchor="middle">3</text>
<text x="325.50" y="403.3" font-size="11.65" text-anchor="middle">4</text>
<text x="36.50" y="391.40" font-size="11.65" text-anchor="end">90</text>
<text x="36.50" y="359.58" font-size="11.65" text-anchor="end">92</text>
<text x="36.50" y="327.76" font-size="11.65" text-anchor="end">94</text>
<text x="36.50" y="295.94" font-size="11.65" text-anchor="end">96</text>
<text x="36.50" y="264.12" font-size="11.65" text-anchor="end">98</text>
<text x="36.50" y="232.30" font-size="11.65" text-anchor="end">100</text>
<text x="183.00" y="419.6" font-size="12.8" text-anchor="middle">Time [h]</text>
<path d="M40.50,228.20 L41.21,230.07 L41.93,231.91 L42.64,233.72 L43.36,235.49 L44.07,237.22 L44.79,238.91 L45.50,240.56 L46.21,242.18 L46.93,243.78 L47.64,245.36 L48.36,246.91 L49.07,248.43 L49.79,249.92 L50.50,251.38 L51.21,252.79 L51.93,254.16 L52.64,255.48 L53.36,256.76 L54.07,258.01 L54.79,259.22 L55.50,260.41 L56.21,261.57 L56.93,262.70 L57.64,263.80 L58.36,264.87 L59.07,265.92 L59.79,266.94 L60.50,267.93 L61.21,268.90 L61.93,269.84 L62.64,270.75 L63.36,271.65 L64.07,272.53 L64.79,273.39 L65.50,274.24 L66.21,275.07 L66.93,275.89 L67.64,276.70 L68.36,277.50 L69.07,278.30 L69.79,279.08 L70.50,279.85 L71.21,280.61 L71.93,281.36 L72.64,282.10 L73.36,282.83 L74.07,283.55 L74.79,284.26 L75.50,284.96 L76.21,285.65 L76.93,286.33 L77.64,287.00 L78.36,287.67 L79.07,288.33 L79.79,288.98 L80.50,289.62 L81.21,290.25 L81.93,290.86 L82.64,291.46 L83.36,292.04 L84.07,292.60 L84.79,293.14 L85.50,293.66 L86.21,294.16 L86.93,294.65 L87.64,295.13 L88.36,295.60 L89.07,296.06 L89.79,296.50 L90.50,296.95 L91.21,297.38 L91.93,297.82 L92.64,298.25 L93.36,298.67 L94.07,299.09 L94.79,299.50 L95.50,299.90 L96.21,300.30 L96.93,300.69 L97.64,301.08 L98.36,301.46 L99.07,301.83 L99.79,302.20 L100.50,302.57 L101.21,302.93 L101.93,303.28 L102.64,303.63 L103.36,303.97 L104.07,304.31 L104.79,304.64 L105.50,304.96 L106.21,305.28 L106.93,305.58 L107.64,305.88 L108.36,306.18 L109.07,306.46 L109.79,306.74 L110.50,307.02 L111.21,307.29 L111.93,307.56 L112.64,307.83 L113.36,308.10 L114.07,308.36 L114.79,308.63 L115.50,308.89 L116.21,309.14 L116.93,309.40 L117.64,309.65 L118.36,309.90 L119.07,310.15 L119.79,310.40 L120.50,310.65 L121.21,310.91 L121.93,311.16 L122.64,311.42 L123.36,311.68 L124.07,311.94 L124.79,312.20 L125.50,312.45 L126.21,312.71 L126.93,312.96 L127.64,313.21 L128.36,313.45 L129.07,313.69 L129.79,313.92 L130.50,314.15 L131.21,314.38 L131.93,314.60 L132.64,314.82 L133.36,315.04 L134.07,315.26 L134.79,315.48 L135.50,315.71 L136.21,315.93 L136.93,316.16 L137.64,316.38 L138.36,316.61 L139.07,316.84 L139.79,317.06 L140.50,317.29 L141.21,317.51 L141.93,317.74 L142.64,317.96 L143.36,318.18 L144.07,318.40 L144.79,318.62 L145.50,318.84 L146.21,319.05 L146.93,319.27 L147.64,319.48 L148.36,319.70 L149.07,319.91 L149.79,320.12 L150.50,320.33 L151.21,320.54 L151.93,320.74 L152.64,320.95 L153.36,321.15 L154.07,321.36 L154.79,321.56 L155.50,321.76 L156.21,321.96 L156.93,322.16 L157.64,322.36 L158.36,322.55 L159.07,322.75 L159.79,322.94 L160.50,323.14 L161.21,323.33 L161.93,323.52 L162.64,323.71 L163.36,323.90 L164.07,324.09 L164.79,324.28 L165.50,324.47 L166.21,324.66 L166.93,324.84 L167.64,325.03 L168.36,325.22 L169.07,325.40 L169.79,325.59 L170.50,325.77 L171.21,325.96 L171.93,326.14 L172.64,326.33 L173.36,326.51 L174.07,326.69 L174.79,326.87 L175.50,327.06 L176.21,327.24 L176.93,327.42 L177.64,327.60 L178.36,327.78 L179.07,327.96 L179.79,328.14 L180.50,328.32 L181.21,328.50 L181.93,328.68 L182.64,328.86 L183.36,329.04 L184.07,329.22 L184.79,329.40 L185.50,329.58 L186.21,329.75 L186.93,329.93 L187.64,330.11 L188.36,330.29 L189.07,330.47 L189.79,330.65 L190.50,330.82 L191.21,331.00 L191.93,331.18 L192.64,331.35 L193.36,331.53 L194.07,331.70 L194.79,331.88 L195.50,332.05 L196.21,332.23 L196.93,332.40 L197.64,332.57 L198.36,332.75 L199.07,332.92 L199.79,333.09 L200.50,333.26 L201.21,333.44 L201.93,333.61 L202.64,333.78 L203.36,333.95 L204.07,334.12 L204.79,334.29 L205.50,334.47 L206.21,334.64 L206.93,334.81 L207.64,334.98 L208.36,335.15 L209.07,335.32 L209.79,335.49 L210.50,335.67 L211.21,335.84 L211.93,336.01 L212.64,336.18 L213.36,336.35 L214.07,336.53 L214.79,336.70 L215.50,336.87 L216.21,337.04 L216.93,337.22 L217.64,337.39 L218.36,337.57 L219.07,337.74 L219.79,337.91 L220.50,338.09 L221.21,338.26 L221.93,338.44 L222.64,338.61 L223.36,338.79 L224.07,338.96 L224.79,339.14 L225.50,339.31 L226.21,339.49 L226.93,339.66 L227.64,339.84 L228.36,340.01 L229.07,340.19 L229.79,340.37 L230.50,340.54 L231.21,340.72 L231.93,340.89 L232.64,341.07 L233.36,341.25 L234.07,341.42 L234.79,341.60 L235.50,341.77 L236.21,341.95 L236.93,342.13 L237.64,342.30 L238.36,342.48 L239.07,342.65 L239.79,342.83 L240.50,343.01 L241.21,343.18 L241.93,343.36 L242.64,343.53 L243.36,343.71 L244.07,343.89 L244.79,344.06 L245.50,344.24 L246.21,344.41 L246.93,344.59 L247.64,344.77 L248.36,344.94 L249.07,345.12 L249.79,345.29 L250.50,345.47 L251.21,345.65 L251.93,345.82 L252.64,346.00 L253.36,346.17 L254.07,346.35 L254.79,346.52 L255.50,346.70 L256.21,346.87 L256.93,347.05 L257.64,347.22 L258.36,347.40 L259.07,347.57 L259.79,347.75 L260.50,347.92 L261.21,348.10 L261.93,348.27 L262.64,348.45 L263.36,348.62 L264.07,348.79 L264.79,348.97 L265.50,349.14 L266.21,349.32 L266.93,349.49 L267.64,349.67 L268.36,349.84 L269.07,350.02 L269.79,350.19 L270.50,350.36 L271.21,350.54 L271.93,350.71 L272.64,350.89 L273.36,351.06 L274.07,351.23 L274.79,351.41 L275.50,351.58 L276.21,351.76 L276.93,351.93 L277.64,352.10 L278.36,352.28 L279.07,352.45 L279.79,352.63 L280.50,352.80 L281.21,352.97 L281.93,353.15 L282.64,353.32 L283.36,353.50 L284.07,353.67 L284.79,353.84 L285.50,354.02 L286.21,354.19 L286.93,354.36 L287.64,354.54 L288.36,354.71 L289.07,354.88 L289.79,355.06 L290.50,355.23 L291.21,355.41 L291.93,355.58 L292.64,355.75 L293.36,355.93 L294.07,356.10 L294.79,356.27 L295.50,356.45 L296.21,356.62 L296.93,356.79 L297.64,356.97 L298.36,357.14 L299.07,357.31 L299.79,357.49 L300.50,357.66 L301.21,357.83 L301.93,358.00 L302.64,358.18 L303.36,358.35 L304.07,358.52 L304.79,358.70 L305.50,358.87 L306.21,359.04 L306.93,359.22 L307.64,359.39 L308.36,359.56 L309.07,359.73 L309.79,359.91 L310.50,360.08 L311.21,360.25 L311.93,360.43 L312.64,360.60 L313.36,360.77 L314.07,360.94 L314.79,361.12 L315.50,361.29 L316.21,361.46 L316.93,361.63 L317.64,361.81 L318.36,361.98 L319.07,362.15 L319.79,362.32 L320.50,362.49 L321.21,362.67 L321.93,362.84 L322.64,363.01 L323.36,363.18 L324.07,363.36 L324.79,363.53 L325.50,363.70" class="s"/>
<path d="M150.00,320.18 L150.59,320.35 L151.17,320.52 L151.76,320.68 L152.35,320.85 L152.93,321.01 L153.52,321.18 L154.11,321.34 L154.70,321.50 L155.28,321.66 L155.87,321.82 L156.46,321.98 L157.04,322.14 L157.63,322.30 L158.22,322.46 L158.80,322.62 L159.39,322.77 L159.98,322.93 L160.57,323.08 L161.15,323.24 L161.74,323.39 L162.33,323.54 L162.91,323.70 L163.50,323.85 L164.09,324.00 L164.67,324.15 L165.26,324.30 L165.85,324.45 L166.43,324.61 L167.02,324.76 L167.61,324.90 L168.20,325.05 L168.78,325.20 L169.37,325.35 L169.96,325.50 L170.54,325.65 L171.13,325.80 L171.72,325.94 L172.30,326.09 L172.89,326.24 L173.48,326.38 L174.07,326.53 L174.65,326.68 L175.24,326.82 L175.83,326.97 L176.41,327.11 L177.00,327.26 L177.59,327.40 L178.17,327.55 L178.76,327.69 L179.35,327.84 L179.93,327.98 L180.52,328.11 L181.11,328.24 L181.70,328.37 L182.28,328.50 L182.87,328.63 L183.46,328.76 L184.04,328.89 L184.63,329.01 L185.22,329.14 L185.80,329.27 L186.39,329.40 L186.98,329.53 L187.57,329.66 L188.15,329.78 L188.74,329.91 L189.33,330.04 L189.91,330.17 L190.50,330.30 L191.09,330.42 L191.67,330.55 L192.26,330.68 L192.85,330.80 L193.43,330.93 L194.02,331.05 L194.61,331.18 L195.20,331.30 L195.78,331.43 L196.37,331.55 L196.96,331.68 L197.54,331.80 L198.13,331.93 L198.72,332.05 L199.30,332.17 L199.89,332.30 L200.48,332.42 L201.07,332.54 L201.65,332.67 L202.24,332.79 L202.83,332.91 L203.41,333.04 L204.00,333.16 L204.59,333.28 L205.17,333.40 L205.76,333.53 L206.35,333.65 L206.93,333.77 L207.52,333.89 L208.11,334.02 L208.70,334.14 L209.28,334.26 L209.87,334.38 L210.46,334.51 L211.04,334.63 L211.63,334.75 L212.22,334.87 L212.80,335.00 L213.39,335.12 L213.98,335.24 L214.57,335.37 L215.15,335.49 L215.74,335.62 L216.33,335.74 L216.91,335.86 L217.50,335.99 L218.09,336.11 L218.67,336.23 L219.26,336.32 L219.85,336.42 L220.43,336.51 L221.02,336.60 L221.61,336.70 L222.20,336.79 L222.78,336.89 L223.37,336.98 L223.96,337.07 L224.54,337.17 L225.13,337.26 L225.72,337.36 L226.30,337.45 L226.89,337.55 L227.48,337.64 L228.07,337.74 L228.65,337.83 L229.24,337.93 L229.83,338.02 L230.41,338.12 L231.00,338.21 L231.59,338.31 L232.17,338.40 L232.76,338.50 L233.35,338.59 L233.93,338.69 L234.52,338.78 L235.11,338.88 L235.70,338.97 L236.28,339.07 L236.87,339.16 L237.46,339.26 L238.04,339.35 L238.63,339.45 L239.22,339.54 L239.80,339.64 L240.39,339.73 L240.98,339.83 L241.57,339.92 L242.15,340.02 L242.74,340.11 L243.33,340.21 L243.91,340.30 L244.50,340.40 L245.09,340.49 L245.67,340.59 L246.26,340.68 L246.85,340.78 L247.43,340.88 L248.02,340.97 L248.61,341.07 L249.20,341.16 L249.78,341.26 L250.37,341.35 L250.96,341.44 L251.54,341.54 L252.13,341.63 L252.72,341.73 L253.30,341.82 L253.89,341.92 L254.48,342.01 L255.07,342.11 L255.65,342.20 L256.24,342.30 L256.83,342.39 L257.41,342.49 L258.00,342.58 L258.59,342.67 L259.17,342.77 L259.76,342.86 L260.35,342.96 L260.93,343.06 L261.52,343.16 L262.11,343.26 L262.70,343.36 L263.28,343.46 L263.87,343.56 L264.46,343.66 L265.04,343.75 L265.63,343.85 L266.22,343.95 L266.80,344.05 L267.39,344.15 L267.98,344.25 L268.57,344.35 L269.15,344.45 L269.74,344.55 L270.33,344.65 L270.91,344.75 L271.50,344.85 L272.09,344.95 L272.67,345.05 L273.26,345.14 L273.85,345.24 L274.43,345.34 L275.02,345.44 L275.61,345.54 L276.20,345.64 L276.78,345.74 L277.37,345.84 L277.96,345.94 L278.54,346.04 L279.13,346.14 L279.72,346.23 L280.30,346.33 L280.89,346.43 L281.48,346.53 L282.07,346.63 L282.65,346.73 L283.24,346.83 L283.83,346.93 L284.41,347.03 L285.00,347.12 L285.59,347.22 L286.17,347.32 L286.76,347.42 L287.35,347.52 L287.93,347.62 L288.52,347.72 L289.11,347.82 L289.70,347.92 L290.28,348.01 L290.87,348.11 L291.46,348.21 L292.04,348.31 L292.63,348.41 L293.22,348.51 L293.80,348.61 L294.39,348.70 L294.98,348.80 L295.57,348.90 L296.15,349.00 L296.74,349.10 L297.33,349.20 L297.91,349.30 L298.50,349.39 L299.09,349.49 L299.67,349.59 L300.26,349.69 L300.85,349.79 L301.43,349.89 L302.02,349.98 L302.61,350.08 L303.20,350.18 L303.78,350.28 L304.37,350.38 L304.96,350.48 L305.54,350.57 L306.13,350.67 L306.72,350.77 L307.30,350.87 L307.89,350.97 L308.48,351.06 L309.07,351.16 L309.65,351.26 L310.24,351.36 L310.83,351.46 L311.41,351.55 L312.00,351.65 L312.59,351.75 L313.17,351.85 L313.76,351.95 L314.35,352.04 L314.93,352.14 L315.52,352.24 L316.11,352.34 L316.70,352.44 L317.28,352.53 L317.87,352.63 L318.46,352.73 L319.04,352.83 L319.63,352.92 L320.22,353.02 L320.80,353.12 L321.39,353.22 L321.98,353.31 L322.57,353.41 L323.15,353.51 L323.74,353.61 L324.33,353.70 L324.91,353.80 L325.50,353.90" class="t"/>
<path d="M150.00,320.18 L150.59,320.36 L151.17,320.54 L151.76,320.72 L152.35,320.90 L152.93,321.07 L153.52,321.25 L154.11,321.42 L154.70,321.60 L155.28,321.77 L155.87,321.94 L156.46,322.11 L157.04,322.28 L157.63,322.45 L158.22,322.62 L158.80,322.79 L159.39,322.96 L159.98,323.13 L160.57,323.29 L161.15,323.46 L161.74,323.63 L162.33,323.79 L162.91,323.95 L163.50,324.12 L164.09,324.28 L164.67,324.45 L165.26,324.63 L165.85,324.83 L166.43,325.03 L167.02,325.23 L167.61,325.43 L168.20,325.63 L168.78,325.83 L169.37,326.02 L169.96,326.22 L170.54,326.42 L171.13,326.62 L171.72,326.82 L172.30,327.01 L172.89,327.21 L173.48,327.41 L174.07,327.60 L174.65,327.80 L175.24,327.99 L175.83,328.19 L176.41,328.39 L177.00,328.58 L177.59,328.78 L178.17,328.97 L178.76,329.16 L179.35,329.36 L179.93,329.55 L180.52,329.75 L181.11,329.94 L181.70,330.13 L182.28,330.33 L182.87,330.52 L183.46,330.71 L184.04,330.91 L184.63,331.10 L185.22,331.29 L185.80,331.49 L186.39,331.68 L186.98,331.87 L187.57,332.06 L188.15,332.26 L188.74,332.45 L189.33,332.64 L189.91,332.85 L190.50,333.05 L191.09,333.25 L191.67,333.45 L192.26,333.65 L192.85,333.85 L193.43,334.05 L194.02,334.25 L194.61,334.45 L195.20,334.65 L195.78,334.85 L196.37,335.05 L196.96,335.25 L197.54,335.45 L198.13,335.64 L198.72,335.84 L199.30,336.04 L199.89,336.24 L200.48,336.44 L201.07,336.63 L201.65,336.83 L202.24,337.03 L202.83,337.23 L203.41,337.42 L204.00,337.62 L204.59,337.82 L205.17,338.01 L205.76,338.21 L206.35,338.41 L206.93,338.60 L207.52,338.80 L208.11,339.00 L208.70,339.20 L209.28,339.39 L209.87,339.59 L210.46,339.79 L211.04,339.98 L211.63,340.18 L212.22,340.38 L212.80,340.58 L213.39,340.77 L213.98,340.97 L214.57,341.17 L215.15,341.37 L215.74,341.57 L216.33,341.76 L216.91,341.96 L217.50,342.16 L218.09,342.36 L218.67,342.56 L219.26,342.75 L219.85,342.95 L220.43,343.14 L221.02,343.33 L221.61,343.53 L222.20,343.72 L222.78,343.92 L223.37,344.11 L223.96,344.31 L224.54,344.50 L225.13,344.70 L225.72,344.89 L226.30,345.09 L226.89,345.28 L227.48,345.48 L228.07,345.67 L228.65,345.87 L229.24,346.06 L229.83,346.26 L230.41,346.45 L231.00,346.65 L231.59,346.84 L232.17,347.04 L232.76,347.24 L233.35,347.43 L233.93,347.63 L234.52,347.82 L235.11,348.02 L235.70,348.21 L236.28,348.41 L236.87,348.60 L237.46,348.80 L238.04,349.00 L238.63,349.19 L239.22,349.39 L239.80,349.58 L240.39,349.78 L240.98,349.97 L241.57,350.17 L242.15,350.37 L242.74,350.56 L243.33,350.76 L243.91,350.95 L244.50,351.15 L245.09,351.34 L245.67,351.54 L246.26,351.73 L246.85,351.93 L247.43,352.13 L248.02,352.32 L248.61,352.52 L249.20,352.71 L249.78,352.91 L250.37,353.10 L250.96,353.30 L251.54,353.49 L252.13,353.69 L252.72,353.88 L253.30,354.08 L253.89,354.27 L254.48,354.47 L255.07,354.66 L255.65,354.86 L256.24,355.05 L256.83,355.25 L257.41,355.44 L258.00,355.64 L258.59,355.83 L259.17,356.03 L259.76,356.22 L260.35,356.42 L260.93,356.63 L261.52,356.83 L262.11,357.04 L262.70,357.25 L263.28,357.45 L263.87,357.66 L264.46,357.86 L265.04,358.07 L265.63,358.28 L266.22,358.48 L266.80,358.69 L267.39,358.89 L267.98,359.10 L268.57,359.31 L269.15,359.51 L269.74,359.72 L270.33,359.92 L270.91,360.13 L271.50,360.34 L272.09,360.54 L272.67,360.75 L273.26,360.95 L273.85,361.16 L274.43,361.37 L275.02,361.57 L275.61,361.78 L276.20,361.98 L276.78,362.19 L277.37,362.39 L277.96,362.60 L278.54,362.81 L279.13,363.01 L279.72,363.22 L280.30,363.42 L280.89,363.63 L281.48,363.83 L282.07,364.04 L282.65,364.24 L283.24,364.45 L283.83,364.66 L284.41,364.86 L285.00,365.07 L285.59,365.27 L286.17,365.48 L286.76,365.68 L287.35,365.89 L287.93,366.09 L288.52,366.30 L289.11,366.50 L289.70,366.71 L290.28,366.92 L290.87,367.12 L291.46,367.33 L292.04,367.53 L292.63,367.74 L293.22,367.94 L293.80,368.15 L294.39,368.35 L294.98,368.56 L295.57,368.76 L296.15,368.97 L296.74,369.17 L297.33,369.38 L297.91,369.58 L298.50,369.79 L299.09,369.99 L299.67,370.20 L300.26,370.40 L300.85,370.61 L301.43,370.81 L302.02,371.02 L302.61,371.22 L303.20,371.43 L303.78,371.63 L304.37,371.84 L304.96,372.04 L305.54,372.25 L306.13,372.45 L306.72,372.66 L307.30,372.86 L307.89,373.07 L308.48,373.27 L309.07,373.48 L309.65,373.68 L310.24,373.89 L310.83,374.09 L311.41,374.29 L312.00,374.50 L312.59,374.70 L313.17,374.91 L313.76,375.11 L314.35,375.32 L314.93,375.52 L315.52,375.73 L316.11,375.93 L316.70,376.14 L317.28,376.34 L317.87,376.54 L318.46,376.75 L319.04,376.95 L319.63,377.16 L320.22,377.36 L320.80,377.57 L321.39,377.77 L321.98,377.97 L322.57,378.18 L323.15,378.38 L323.74,378.59 L324.33,378.79 L324.91,379.00 L325.50,379.20" class="d" stroke-dashoffset="-8.93"/>
<text transform="translate(11.1,307.9) rotate(-90)" font-size="13.09" text-anchor="middle">Total blood volume [%]</text>
<text x="54.5" y="242.0" class="tag">c)</text>
<rect x="396.5" y="228.2" width="285.0" height="159.10000000000002" fill="none" stroke="#262626" stroke-opacity="0.48" stroke-width="1"/>
<path d="M396.50,387.3 v-3 M396.50,228.2 v3 M467.75,387.3 v-3 M467.75,228.2 v3 M539.00,387.3 v-3 M539.00,228.2 v3 M610.25,387.3 v-3 M610.25,228.2 v3 M681.50,387.3 v-3 M681.50,228.2 v3 M396.5,387.30 h3 M681.5,387.30 h-3 M396.5,347.52 h3 M681.5,347.52 h-3 M396.5,307.75 h3 M681.5,307.75 h-3 M396.5,267.98 h3 M681.5,267.98 h-3 M396.5,228.20 h3 M681.5,228.20 h-3" stroke="#262626" stroke-opacity="0.48" stroke-width="1" fill="none"/>
<text x="396.50" y="403.3" font-size="11.65" text-anchor="middle">0</text>
<text x="467.75" y="403.3" font-size="11.65" text-anchor="middle">1</text>
<text x="539.00" y="403.3" font-size="11.65" text-anchor="middle">2</text>
<text x="610.25" y="403.3" font-size="11.65" text-anchor="middle">3</text>
<text x="681.50" y="403.3" font-size="11.65" text-anchor="middle">4</text>
<text x="392.50" y="391.40" font-size="11.65" text-anchor="end">2</text>
<text x="392.50" y="351.62" font-size="11.65" text-anchor="end">4</text>
<text x="392.50" y="311.85" font-size="11.65" text-anchor="end">6</text>
<text x="392.50" y="272.08" font-size="11.65" text-anchor="end">8</text>
<text x="392.50" y="232.30" font-size="11.65" text-anchor="end">10</text>
<text x="539.00" y="419.6" font-size="12.8" text-anchor="middle">Time [h]</text>
<path d="M396.5,307.60 H681.5" class="s"/>
<path d="M396.5,307.60 L681.5,347.38" class="t"/>
<path d="M396.5,307.60 L681.5,267.83" class="d"/>
<text transform="translate(370.5,307.7) rotate(-90)" font-size="12.8" text-anchor="middle">LpS [mL/min/mmHg]</text>
<text x="408.2" y="244.5" class="tag">d)</text>
</svg>
</body></html>
